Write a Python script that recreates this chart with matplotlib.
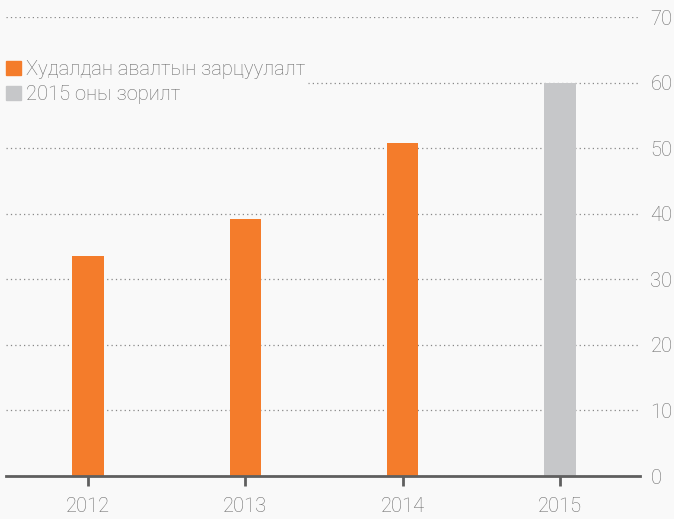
import matplotlib
matplotlib.use("Agg")
import matplotlib.pyplot as plt
from matplotlib.patches import Patch

# Data
years = ["2012", "2013", "2014", "2015"]
values = [33.5, 39.2, 50.8, 60.0]
bar_colors = ["#f47c2b", "#f47c2b", "#f47c2b", "#c6c7c9"]
legend_labels = ["Худалдан авалтын зарцуулалт", "2015 оны зорилт"]
yticks = [0, 10, 20, 30, 40, 50, 60, 70]

text_color = "#6b6b6b"
bg = "#f9f9f9"

plt.rcParams["font.family"] = ["Roboto", "DejaVu Sans"]

fig = plt.figure(figsize=(6.74, 5.19), dpi=100, facecolor=bg)
ax = fig.add_axes([6 / 674, 43 / 519, 634 / 674, (476 - 17) / 519])
ax.set_facecolor(bg)

x = range(len(years))
ax.bar(x, values, width=0.2, color=bar_colors, zorder=3)

ax.set_xlim(-0.523, 3.51)
ax.set_ylim(0, 70)

# dotted gridlines
ax.set_yticks(yticks)
ax.yaxis.grid(True, linestyle=(0, (1, 2.5)), color="#888888", linewidth=0.9, zorder=1)
ax.xaxis.grid(False)

ax.yaxis.tick_right()
ax.tick_params(axis="y", length=0, pad=7.5, labelsize=14.5, labelcolor=text_color)
ax.set_yticklabels([str(t) for t in yticks], fontweight="light")

ax.set_xticks(list(x))
ax.set_xticklabels(years, fontweight="light")
ax.tick_params(axis="x", length=7, width=2, color="#5f5f5f", pad=8,
               labelsize=14.5, labelcolor=text_color)

for s in ["top", "right", "left"]:
    ax.spines[s].set_visible(False)
ax.spines["bottom"].set_color("#5f5f5f")
ax.spines["bottom"].set_linewidth(2)
ax.spines["bottom"].set_zorder(4)

handles = [Patch(color=bar_colors[0]), Patch(color=bar_colors[3])]
leg = fig.legend(handles, legend_labels, loc="upper left",
                 bbox_to_anchor=(4 / 674, 1 - 58 / 519),
                 frameon=True, facecolor=bg, edgecolor=bg, framealpha=1,
                 handlelength=0.75, handleheight=0.75, handletextpad=0.25,
                 labelspacing=0.3, borderpad=0.1, borderaxespad=0,
                 prop={"size": 14.5, "weight": "light"})
for t in leg.get_texts():
    t.set_color(text_color)

fig.savefig("out.png", dpi=100, facecolor=bg)
